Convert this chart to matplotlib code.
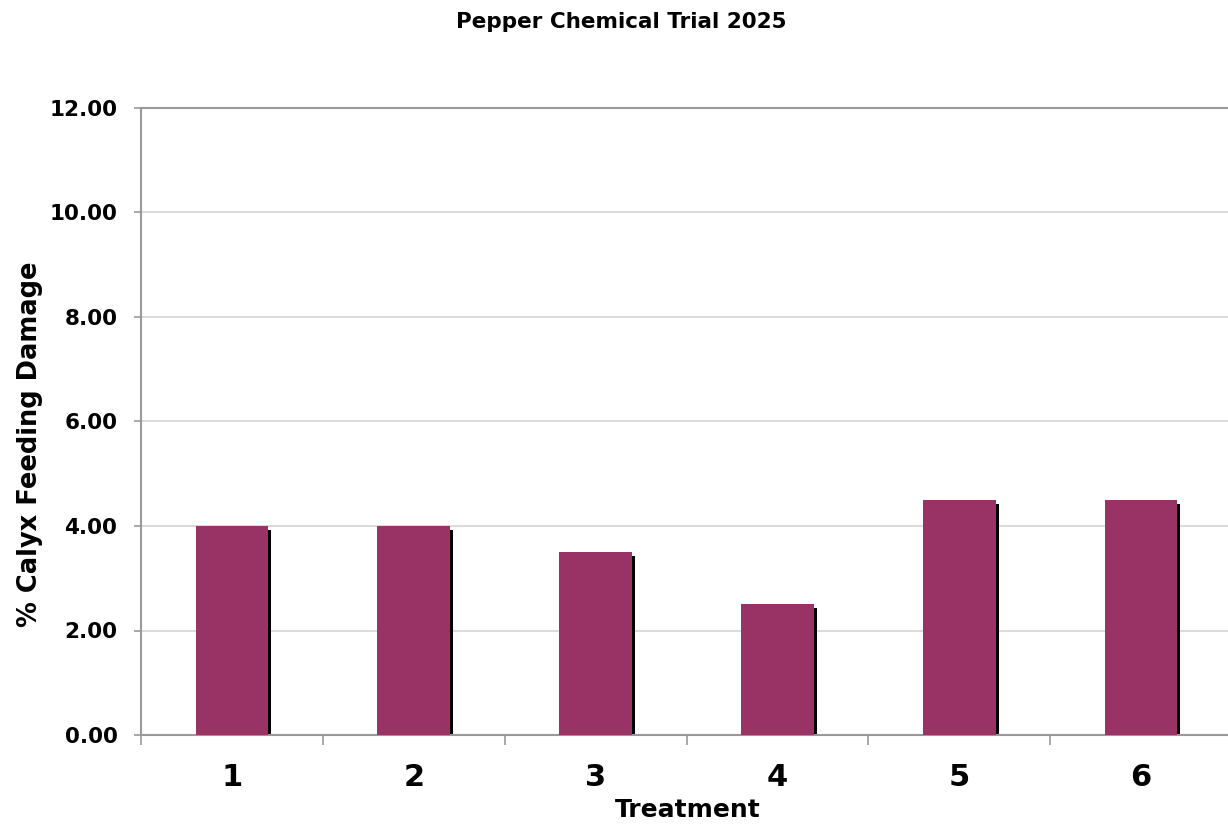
import matplotlib
matplotlib.use("Agg")
import matplotlib.pyplot as plt
from matplotlib.transforms import ScaledTranslation

treatments = ["1", "2", "3", "4", "5", "6"]
damage = [4.0, 4.0, 3.5, 2.5, 4.5, 4.5]
y_ticks = [0, 2, 4, 6, 8, 10, 12]

bar_color = "#993366"
plt.rcParams["font.family"] = ["DejaVu Sans"]

W, H = 1228, 826
fig = plt.figure(figsize=(W / 100, H / 100), dpi=100)
ax = fig.add_axes([141 / W, 91 / H, (1232 - 141) / W, (735 - 108) / H])

x = list(range(1, len(treatments) + 1))
width = 0.4

# drop shadow behind each bar
shadow = ax.transData + ScaledTranslation(3 / 100, -4 / 100, fig.dpi_scale_trans)
ax.bar(x, damage, width=width, color="black", transform=shadow, zorder=2)
ax.bar(x, damage, width=width, color=bar_color, zorder=3)

ax.set_xlim(0.5, len(treatments) + 0.5)
ax.set_ylim(0, 12)
ax.set_yticks(y_ticks)
ax.set_yticklabels([f"{v:.2f}" for v in y_ticks], fontsize=15.5, fontweight="bold")
ax.yaxis.grid(True, color="#d4d4d4", linewidth=1.2, zorder=0)
ax.set_axisbelow(True)

# category labels centred, tick marks on the category boundaries
ax.set_xticks(x)
ax.set_xticklabels(treatments, fontsize=22, fontweight="bold")
ax.tick_params(axis="x", length=0, pad=20)
ax.set_xticks([i + 0.5 for i in range(len(treatments) + 1)], minor=True)
ax.tick_params(axis="x", which="minor", length=7, width=1.2, color="#999999")
ax.tick_params(axis="y", length=5, width=1.2, color="#999999", pad=12)

for side in ["left", "bottom", "top", "right"]:
    ax.spines[side].set_color("#999999")
    ax.spines[side].set_linewidth(1.5)

fig.text(688 / W, 1 - 810 / H, "Treatment", ha="center", va="center",
         fontsize=18, fontweight="bold")
fig.text(30 / W, 1 - 444 / H, "% Calyx Feeding Damage", ha="center", va="center",
         rotation=90, fontsize=18.5, fontweight="bold")
fig.text(621.5 / W, 1 - 22 / H, "Pepper Chemical Trial 2025",
         ha="center", va="center", fontsize=15.5, fontweight="bold")

fig.savefig("out.png", dpi=100)
